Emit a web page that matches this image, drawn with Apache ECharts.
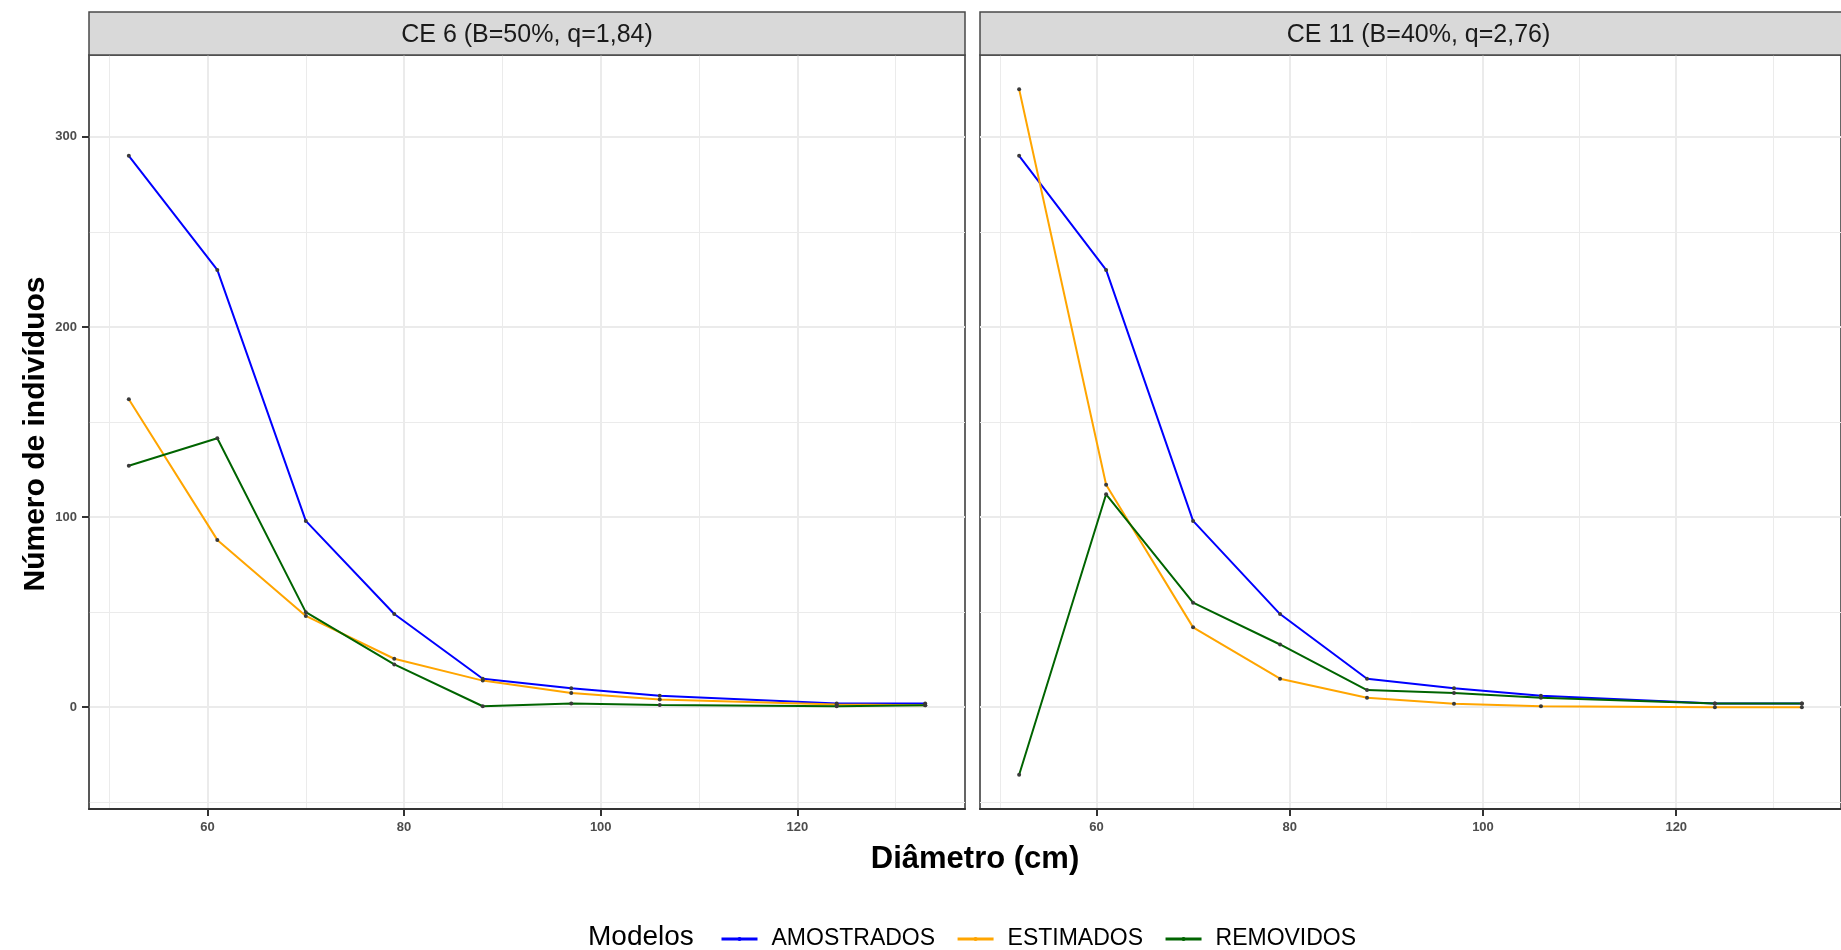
<!DOCTYPE html>
<html><head><meta charset="utf-8">
<script src="https://cdn.jsdelivr.net/npm/echarts@6/dist/echarts.min.js"></script>
<style>html,body{margin:0;padding:0;background:#fff}#c{width:1841px;height:950px}</style>
</head><body><div id="c"></div>
<script>
// ---- data ----
const diametros = [52, 61, 70, 79, 88, 97, 106, 124, 133];
const paineis = ['CE 6 (B=50%, q=1,84)', 'CE 11 (B=40%, q=2,76)'];
const modelos = ['AMOSTRADOS', 'ESTIMADOS', 'REMOVIDOS'];
const cores = ['#0000FF', '#FFA500', '#006400'];
const amostradosCE6 = [290, 230, 98, 49, 15, 10, 6, 2, 2];
const estimadosCE6 = [162, 88, 48, 25.5, 14, 7.5, 4, 1.5, 1];
const removidosCE6 = [127, 141.5, 50, 22.5, 0.5, 2, 1.2, 0.5, 1];
const amostradosCE11 = [290, 230, 98, 49, 15, 10, 6, 2, 2];
const estimadosCE11 = [325, 117, 42, 15, 5, 1.8, 0.5, 0, 0];
const removidosCE11 = [-35.5, 112, 55, 33, 9, 7.5, 5, 2, 2];
const xMajorTicks = [60, 80, 100, 120];
const xMinorTicks = [50, 70, 90, 110, 130];
const yMajorTicks = [0, 100, 200, 300];
const yMinorTicks = [-50, 50, 150, 250];

// ---- scales (ggplot-like 5% expansion) ----
const allY = [].concat(amostradosCE6, estimadosCE6, removidosCE6, amostradosCE11, estimadosCE11, removidosCE11);
const xLo = Math.min(...diametros), xHi = Math.max(...diametros);
const yLo = Math.min(...allY), yHi = Math.max(...allY);
const xMin = xLo - 0.05 * (xHi - xLo), xMax = xHi + 0.05 * (xHi - xLo);
const yMin = yLo - 0.05 * (yHi - yLo), yMax = yHi + 0.05 * (yHi - yLo);

const painelDados = [
  [amostradosCE6, estimadosCE6, removidosCE6],
  [amostradosCE11, estimadosCE11, removidosCE11]
];

const FONT = '"Liberation Sans", Arial, sans-serif';
const grids = [
  { left: 89, top: 55, width: 876, height: 754 },
  { left: 980, top: 55, width: 877, height: 754 }
];

const chart = echarts.init(document.getElementById('c'), null, { renderer: 'canvas' });

const xAxes = [], yAxes = [], series = [];
grids.forEach((g, i) => {
  xAxes.push({
    type: 'value', gridIndex: i, min: xMin, max: xMax,
    axisLine: { show: true, onZero: false, lineStyle: { color: '#333', width: 2 } },
    axisTick: { show: true, length: 7, customValues: xMajorTicks, lineStyle: { color: '#333', width: 2 } },
    axisLabel: {
      show: true, customValues: xMajorTicks, margin: 12, color: '#4D4D4D',
      fontFamily: FONT, fontWeight: 'bold', fontSize: 13,
      formatter: v => xMajorTicks.indexOf(v) >= 0 ? String(v) : ''
    },
    splitLine: { show: false }
  });
  yAxes.push({
    type: 'value', gridIndex: i, min: yMin, max: yMax,
    axisLine: { show: i === 0, onZero: false, lineStyle: { color: '#555', width: 1.5 } },
    axisTick: { show: i === 0, length: 7, customValues: yMajorTicks, lineStyle: { color: '#333', width: 2 } },
    axisLabel: {
      show: i === 0, customValues: yMajorTicks, margin: 12, color: '#4D4D4D',
      fontFamily: FONT, fontWeight: 'bold', fontSize: 13,
      formatter: v => yMajorTicks.indexOf(v) >= 0 ? String(v) : ''
    },
    splitLine: { show: false }
  });
  // grid lines
  const ml = (arr, key, w) => arr.map(v => ({ [key]: v, lineStyle: { color: '#EBEBEB', width: w, type: 'solid' } }));
  series.push({
    name: 'grade' + i, type: 'line', xAxisIndex: i, yAxisIndex: i, data: [], z: 0, silent: true,
    markLine: {
      z: 0, zlevel: 0, silent: true, symbol: 'none', label: { show: false }, animation: false,
      emphasis: { disabled: true },
      data: [].concat(ml(xMinorTicks, 'xAxis', 1), ml(yMinorTicks, 'yAxis', 1),
                      ml(xMajorTicks, 'xAxis', 2), ml(yMajorTicks, 'yAxis', 2))
    }
  });
  painelDados[i].forEach((vals, k) => {
    series.push({
      name: modelos[k], type: 'line', xAxisIndex: i, yAxisIndex: i, z: 6,
      data: diametros.map((d, j) => [d, vals[j]]),
      symbol: 'circle', symbolSize: 4, showSymbol: true,
      lineStyle: { color: cores[k], width: 2 },
      itemStyle: { color: '#3a3a3a', borderWidth: 0 },
      emphasis: { disabled: true },
      animation: false
    });
  });
});

const graphic = [];
grids.forEach((g, i) => {
  graphic.push({
    type: 'rect', shape: { x: g.left, y: 12, width: g.width, height: 43 },
    style: { fill: '#D9D9D9', stroke: '#4a4a4a', lineWidth: 1.5 }, z: 5
  });
  graphic.push({
    type: 'text', x: g.left + g.width / 2, y: 35, z: 6,
    style: { text: paineis[i], fill: '#1A1A1A', font: '25px ' + FONT, textAlign: 'center', textVerticalAlign: 'middle' }
  });
});
graphic.push({
  type: 'text', x: 36, y: 434, rotation: Math.PI / 2, z: 6,
  style: { text: 'Número de indivíduos', fill: '#000', font: 'bold 30px ' + FONT, textAlign: 'center', textVerticalAlign: 'middle' }
});
graphic.push({
  type: 'text', x: 975, y: 859, z: 6,
  style: { text: 'Diâmetro (cm)', fill: '#000', font: 'bold 31px ' + FONT, textAlign: 'center', textVerticalAlign: 'middle' }
});
graphic.push({
  type: 'text', x: 588, y: 937, z: 6,
  style: { text: 'Modelos', fill: '#000', font: '28px ' + FONT, textAlign: 'left', textVerticalAlign: 'middle' }
});

chart.setOption({
  backgroundColor: '#fff',
  animation: false,
  grid: grids.map(g => Object.assign({ show: true, borderColor: '#333', borderWidth: 1.5, backgroundColor: 'transparent' }, g)),
  xAxis: xAxes,
  yAxis: yAxes,
  legend: {
    left: 715, top: 921, itemWidth: 36, itemHeight: 5, itemGap: 21,
    data: modelos.map((m, k) => ({ name: m, itemStyle: { color: cores[k] }, lineStyle: { color: cores[k], width: 3 } })),
    textStyle: { fontFamily: FONT, fontSize: 23, color: '#000', padding: [0, 0, 0, 9], lineHeight: 26 },
    selectedMode: false
  },
  series: series,
  graphic: graphic
});
</script>
</body></html>
